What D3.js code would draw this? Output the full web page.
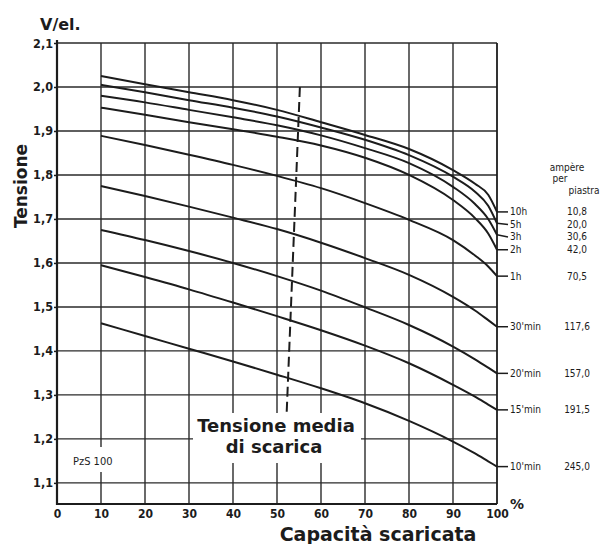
<!DOCTYPE html>
<html><head><meta charset="utf-8">
<script src="https://cdn.jsdelivr.net/npm/d3@7"></script>
<style>
html,body{margin:0;padding:0;background:#fff;}
svg{display:block;}
</style></head>
<body>
<svg id="c" width="609" height="544"></svg>
<script>
// ---- data ----
const capacity = [10,20,30,40,50,60,70,80,90,95,98,100];
const seriesNames = ["10h","5h","3h","2h","1h","30'min","20'min","15'min","10'min"];
const amperes = ["10,8","20,0","30,6","42,0","70,5","117,6","157,0","191,5","245,0"];
const v10h  = [2.025,2.006,1.988,1.970,1.948,1.920,1.891,1.859,1.811,1.780,1.755,1.716];
const v5h   = [2.005,1.988,1.970,1.953,1.933,1.908,1.880,1.845,1.796,1.762,1.730,1.690];
const v3h   = [1.980,1.965,1.948,1.931,1.913,1.890,1.861,1.827,1.773,1.734,1.700,1.664];
const v2h   = [1.953,1.937,1.920,1.904,1.887,1.867,1.839,1.800,1.743,1.702,1.667,1.630];
const v1h   = [1.889,1.868,1.846,1.823,1.798,1.770,1.736,1.698,1.652,1.617,1.592,1.570];
const v30m  = [1.775,1.752,1.728,1.703,1.677,1.646,1.611,1.573,1.523,1.492,1.470,1.455];
const v20m  = [1.675,1.652,1.627,1.600,1.570,1.537,1.499,1.459,1.410,1.381,1.362,1.349];
const v15m  = [1.595,1.568,1.540,1.510,1.479,1.447,1.412,1.372,1.323,1.296,1.278,1.266];
const v10m  = [1.463,1.434,1.405,1.376,1.346,1.315,1.281,1.241,1.194,1.167,1.149,1.137];
const seriesValues = [v10h,v5h,v3h,v2h,v1h,v30m,v20m,v15m,v10m];
const xTicks = [0,10,20,30,40,50,60,70,80,90,100];
const yTicks = [1.1,1.2,1.3,1.4,1.5,1.6,1.7,1.8,1.9,2.0,2.1];
const yTickLabels = ["1,1","1,2","1,3","1,4","1,5","1,6","1,7","1,8","1,9","2,0","2,1"];
const meanLine = [[55.2,2.0],[52.2,1.26]];

// ---- scales ----
const svg = d3.select("#c");
const x = d3.scaleLinear().domain([0,100]).range([57,497]);
const y = d3.scaleLinear().domain([1.052,2.1]).range([504,43]);
const ink = "#1c1c1c";
const condensed = "'DejaVu Sans Condensed','Liberation Sans Narrow','DejaVu Sans',sans-serif";

const grid = svg.append("g").attr("stroke","#2a2a2a").attr("stroke-width",1.4);
grid.selectAll("line.v").data(xTicks.slice(1,-1)).join("line")
  .attr("x1",d=>x(d)).attr("x2",d=>x(d)).attr("y1",y(2.1)).attr("y2",y(1.052));
grid.selectAll("line.h").data(yTicks).join("line")
  .attr("x1",x(0)).attr("x2",x(100)).attr("y1",d=>y(d)).attr("y2",d=>y(d));

// frame
svg.append("line").attr("x1",x(0)).attr("x2",x(0)).attr("y1",y(2.1)-3).attr("y2",y(1.052)+1)
  .attr("stroke",ink).attr("stroke-width",2.2);
svg.append("line").attr("x1",x(100)).attr("x2",x(100)).attr("y1",y(2.1)).attr("y2",y(1.052))
  .attr("stroke",ink).attr("stroke-width",1.8);
svg.append("line").attr("x1",x(0)).attr("x2",x(100)).attr("y1",y(1.052)).attr("y2",y(1.052))
  .attr("stroke",ink).attr("stroke-width",2.2);

// y axis ticks/labels
const yAxis = d3.axisLeft(y).tickValues(yTicks).tickSize(3).tickPadding(1)
  .tickFormat((d,i)=>yTickLabels[i]);
const ya = svg.append("g").attr("transform",`translate(${x(0)},0)`).call(yAxis);
ya.select(".domain").remove();
ya.selectAll("line").attr("stroke",ink).attr("stroke-width",1.5);
ya.selectAll("text").attr("fill",ink).style("font-family",condensed)
  .style("font-size","12.5px").style("font-weight","bold");

// x axis labels
const xAxis = d3.axisBottom(x).tickValues(xTicks).tickSize(0).tickPadding(5)
  .tickFormat(d3.format("d"));
const xa = svg.append("g").attr("transform",`translate(0,${y(1.052)})`).call(xAxis);
xa.select(".domain").remove();
xa.selectAll("text").attr("fill",ink).style("font-family",condensed)
  .style("font-size","12px").style("font-weight","bold");

// white patches behind in-chart texts
svg.append("rect").attr("x",193).attr("y",413).attr("width",168).attr("height",50).attr("fill","#fff");
svg.append("rect").attr("x",70).attr("y",447).attr("width",60).attr("height",25).attr("fill","#fff");

// curves
const line = d3.line().x(d=>x(d[0])).y(d=>y(d[1])).curve(d3.curveMonotoneX);
svg.append("g").selectAll("path").data(seriesValues).join("path")
  .attr("d",vals=>line(capacity.map((c,i)=>[c,vals[i]])))
  .attr("fill","none").attr("stroke",ink).attr("stroke-width",2);

// dashed mean-voltage line
svg.append("path").attr("d",d3.line().x(d=>x(d[0])).y(d=>y(d[1]))(meanLine))
  .attr("stroke",ink).attr("stroke-width",2).attr("stroke-dasharray","10,5").attr("fill","none");

// right labels (spread so they do not collide)
const lab = svg.append("g");
let prevY = -Infinity;
seriesValues.forEach((vals,i)=>{
  const ve = vals[vals.length-1];
  const yc = y(ve);
  const yl = Math.max(yc, prevY + 12.5);
  prevY = yl;
  lab.append("line").attr("x1",x(100)).attr("x2",x(100)+11).attr("y1",yc).attr("y2",yl)
    .attr("stroke",ink).attr("stroke-width",1.5);
  lab.append("text").attr("x",x(100)+13).attr("y",yl).attr("dy","0.35em")
    .style("font-family",condensed).style("font-size","10px").attr("fill",ink).text(seriesNames[i]);
  lab.append("text").attr("x",577).attr("y",yl).attr("dy","0.35em").attr("text-anchor","middle")
    .style("font-family",condensed).style("font-size","10px").attr("fill",ink).text(amperes[i]);
});
const hdr = svg.append("g").style("font-family",condensed).style("font-size","10px").attr("fill",ink).attr("text-anchor","middle");
hdr.append("text").attr("x",567).attr("y",171).text("ampère");
hdr.append("text").attr("x",560).attr("y",182).text("per");
hdr.append("text").attr("x",584).attr("y",194).text("piastra");

// titles
svg.append("text").attr("x",40).attr("y",30).text("V/el.")
  .style("font-family","'DejaVu Sans',sans-serif").style("font-size","16px").style("font-weight","bold").attr("fill",ink);
svg.append("text").attr("transform","translate(27,186) rotate(-90)").attr("text-anchor","middle").text("Tensione")
  .style("font-family","'DejaVu Sans',sans-serif").style("font-size","17px").style("font-weight","bold").attr("fill",ink);
svg.append("text").attr("x",378).attr("y",541).attr("text-anchor","middle").text("Capacità scaricata")
  .style("font-family","'DejaVu Sans',sans-serif").style("font-size","19px").style("font-weight","bold").attr("fill",ink);
svg.append("text").attr("x",510).attr("y",509).text("%")
  .style("font-family","'DejaVu Sans',sans-serif").style("font-size","14px").style("font-weight","bold").attr("fill",ink);
const tm = svg.append("g").attr("text-anchor","middle").style("font-family","'DejaVu Sans',sans-serif")
  .style("font-size","18px").style("font-weight","bold").attr("fill",ink);
tm.append("text").attr("x",276).attr("y",432).text("Tensione media");
tm.append("text").attr("x",274).attr("y",453).text("di scarica");
svg.append("text").attr("x",73).attr("y",465).text("PzS 100")
  .style("font-family",condensed).style("font-size","11px").attr("fill",ink);
</script>
</body></html>
